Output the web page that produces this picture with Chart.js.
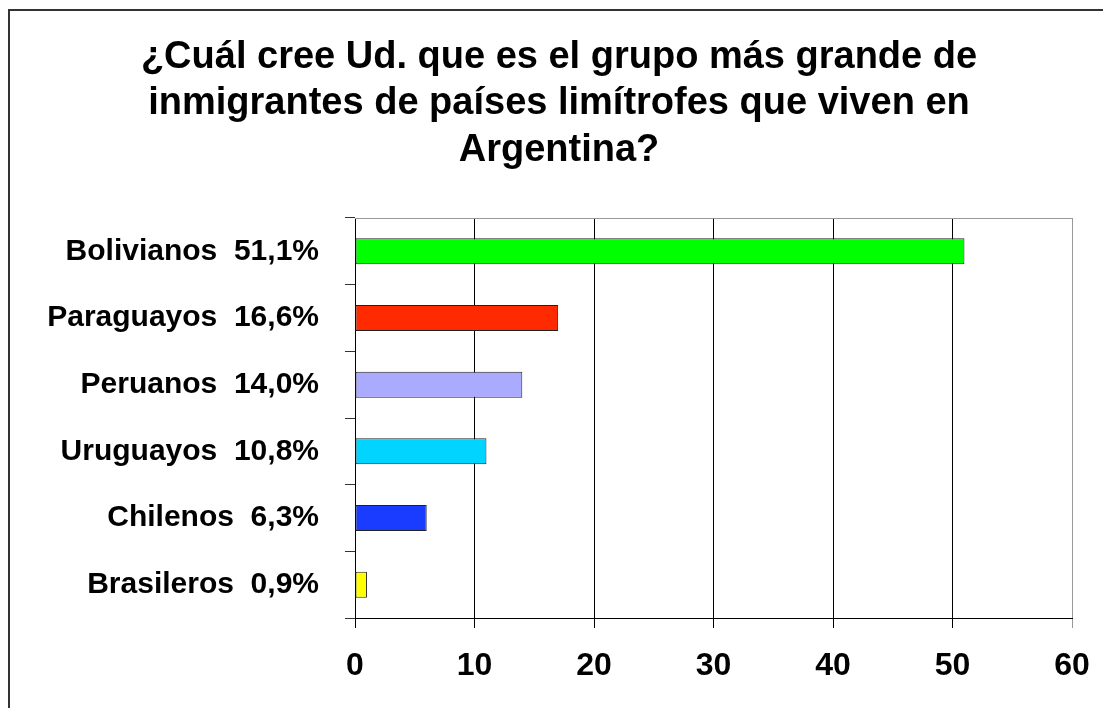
<!DOCTYPE html>
<html>
<head>
<meta charset="utf-8">
<script src="https://cdn.jsdelivr.net/npm/chart.js@4.4.1/dist/chart.umd.min.js"></script>
<style>
    html, body { margin: 0; padding: 0; background: #fff; overflow: hidden; }
    #frame { position: absolute; left: 8px; top: 9px; width: 2000px; height: 2000px; border: 2px solid #333; }
    #wrap { position: absolute; left: 0; top: 0; width: 1103px; height: 708px; }
</style>
</head>
<body>
<div id="frame"></div>
<div id="wrap"><canvas id="chart"></canvas></div>
<script>
// values (labels carry the survey percentages)
const categories = ['Bolivianos  51,1%', 'Paraguayos  16,6%', 'Peruanos  14,0%', 'Uruguayos  10,8%', 'Chilenos  6,3%', 'Brasileros  0,9%'];
const values = [51, 17, 14, 11, 6, 1];
const barColors = ['#00ff00', '#ff2a00', '#aaaaff', '#00d4ff', '#1a3cff', '#ffff00'];
const titleLines = ['¿Cuál cree Ud. que es el grupo más grande de', 'inmigrantes de países limítrofes que viven en', 'Argentina?'];
const xMin = 0, xMax = 60, xStep = 10;

const FONT = "Arial, 'Liberation Sans', sans-serif";

// gray top / right edge of the plot area
const plotEdge = {
    id: 'plotEdge',
    beforeDatasetsDraw(chart) {
        const { ctx, chartArea: a } = chart;
        ctx.save();
        ctx.strokeStyle = '#999';
        ctx.lineWidth = 1;
        ctx.beginPath();
        ctx.moveTo(a.left, a.top + 0.5);
        ctx.lineTo(a.right + 0.5, a.top + 0.5);
        ctx.lineTo(a.right + 0.5, a.bottom);
        ctx.stroke();
        ctx.restore();
    }
};

new Chart(document.getElementById('chart').getContext('2d'), {
    type: 'bar',
    data: {
        labels: categories,
        datasets: [{
            data: values,
            backgroundColor: barColors,
            borderColor: '#222',
            borderWidth: 1,
            borderSkipped: false,
            categoryPercentage: 1,
            barPercentage: 0.39
        }]
    },
    options: {
        indexAxis: 'y',
        responsive: true,
        maintainAspectRatio: false,
        animation: false,
        layout: { padding: { left: 46, right: 31, top: 0, bottom: 0 } },
        plugins: {
            legend: { display: false },
            tooltip: { enabled: false },
            title: {
                display: true,
                text: titleLines,
                color: '#000',
                font: { family: FONT, size: 38, weight: 'bold', lineHeight: 46.5 / 38 },
                padding: { top: 34, bottom: 44.5 }
            }
        },
        scales: {
            x: {
                min: xMin,
                max: xMax,
                ticks: {
                    stepSize: xStep,
                    color: '#000',
                    padding: 19,
                    maxRotation: 0,
                    font: { family: FONT, size: 32, weight: 'bold' }
                },
                grid: {
                    color: (c) => (c.tick && c.tick.value === xMax ? '#999' : '#000'),
                    lineWidth: 1,
                    tickLength: 10,
                    drawTicks: true
                },
                border: { display: true, color: '#000', width: 1 },
                afterFit: (s) => { s.height = 90; s.paddingLeft = 0; s.paddingRight = 0; }
            },
            y: {
                ticks: {
                    color: '#000',
                    padding: 26,
                    font: { family: FONT, size: 30, weight: 'bold' }
                },
                grid: {
                    offset: true,
                    drawOnChartArea: false,
                    drawTicks: true,
                    tickLength: 10,
                    color: '#333'
                },
                border: { display: true, color: '#000', width: 1 },
                afterFit: (s) => { s.width = 309; s.paddingTop = 0; s.paddingBottom = 0; }
            }
        }
    },
    plugins: [plotEdge]
});
</script>
</body>
</html>
